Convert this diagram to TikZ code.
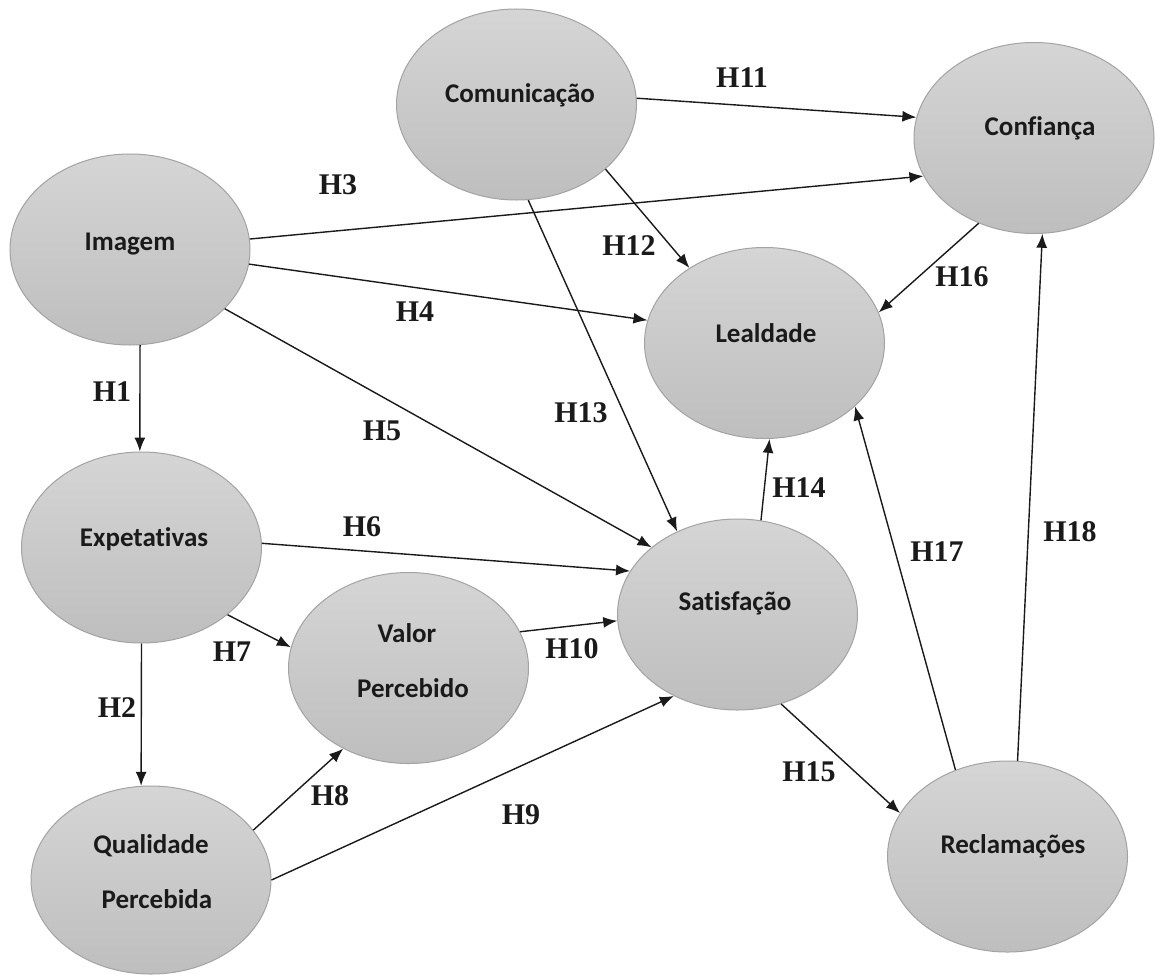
\documentclass[tikz,border=0pt]{standalone}
\usepackage{fontspec}
\newfontfamily\nodefont{Carlito}[Ligatures=NoCommon]
\newfontfamily\hypfont{Liberation Serif}
\usetikzlibrary{shapes.geometric,arrows.meta}
\definecolor{eltop}{HTML}{D5D5D5}
\definecolor{elbot}{HTML}{BEBEBE}
\definecolor{elline}{HTML}{A3A3A3}
\definecolor{ink}{HTML}{1A1A1A}
\begin{document}
\begin{tikzpicture}[x=1pt,y=-1pt,
  construct/.style={ellipse, draw=elline, line width=1pt, top color=eltop, bottom color=elbot,
    minimum width=240pt, minimum height=191pt, inner sep=0pt},
  ctext/.style={anchor=base, inner sep=0pt, text=ink,
    font=\nodefont\bfseries\fontsize{27}{32}\selectfont},
  hyp/.style={inner sep=0pt, text=ink, font=\hypfont\bfseries\fontsize{30}{36}\selectfont},
  link/.style={-{Latex[length=14pt,width=11pt]}, line width=1.4pt, draw=ink}]
\useasboundingbox (0,0) rectangle (1155,974);
\fill[white] (0,0) rectangle (1155,974);

% constructs
\node[construct] (img) at (130,249.5) {};
\node[construct] (com) at (516.5,104.5) {};
\node[construct] (con) at (1034,138) {};
\node[construct] (lea) at (764.5,343) {};
\node[construct] (exp) at (141.5,547.5) {};
\node[construct] (val) at (408.5,668) {};
\node[construct] (sat) at (737.5,614.5) {};
\node[construct, minimum height=188pt] (qua) at (151,880) {};
\node[construct] (rec) at (1007.5,856.5) {};

% construct texts
\node[ctext] (imgT) at (130,250) {Imagem};
\node[ctext] (comT) at (520,102) {Comunicação};
\node[ctext] (conT) at (1040,135) {Confiança};
\node[ctext] (leaT) at (766,342) {Lealdade};
\node[ctext] (expT) at (144,546) {Expetativas};
\node[ctext] (satT) at (735,610) {Satisfação};
\node[ctext] (valT1) at (407,642) {Valor};
\node[ctext] (valT2) at (413,697) {Percebido};
\node[ctext] (quaT1) at (151,853) {Qualidade};
\node[ctext] (quaT2) at (157,908) {Percebida};
\node[ctext] (recT) at (1013,853) {Reclamações};

% connectors
\draw[link] (img.-84.8) -- (exp.91.5);
\draw[link] (exp.-90.3) -- (qua.96.2);
\draw[link] (img.5.4) -- (con.199.4);
\draw[link] (img.-7.2) -- (lea.169.9);
\draw[link] (img.-32) -- (sat.142.2);
\draw[link] (exp.2.6) -- (sat.158.1);
\draw[link] (exp.-38.1) -- (val.170.3);
\draw[link] (qua.26.3) -- (val.-129.9);
\draw[link] (qua.0.9) -- (sat.-128);
\draw[link] (val.18.1) -- (sat.183.4);
\draw[link] (com.3.6) -- (con.170.1);
\draw[link] (com.-36.7) -- (lea.135.2);
\draw[link] (com.-83.9) -- (sat.126.2);
\draw[link] (sat.76.5) -- (lea.-87.5);
\draw[link] (sat.-64.3) -- (rec.158);
\draw[link] (con.-123.8) -- (lea.15.7);
\draw[link] (rec.121.7) -- (lea.-35.3);
\draw[link] (rec.84.3) -- (con.-85);

% hypothesis labels
\node[hyp] (h1) at (112,392) {H1};
\node[hyp] (h2) at (117,708) {H2};
\node[hyp] (h3) at (338,185) {H3};
\node[hyp] (h4) at (415,312) {H4};
\node[hyp] (h5) at (382,431) {H5};
\node[hyp] (h6) at (362,527) {H6};
\node[hyp] (h7) at (232,652) {H7};
\node[hyp] (h8) at (330,796) {H8};
\node[hyp] (h9) at (521,815) {H9};
\node[hyp] (h10) at (572,649) {H10};
\node[hyp] (h11) at (742,78) {H11};
\node[hyp] (h12) at (629,246) {H12};
\node[hyp] (h13) at (581,413) {H13};
\node[hyp] (h14) at (799,488) {H14};
\node[hyp] (h15) at (809,772) {H15};
\node[hyp] (h16) at (962,277) {H16};
\node[hyp] (h17) at (937,552) {H17};
\node[hyp] (h18) at (1070,532) {H18};
\end{tikzpicture}
\end{document}
